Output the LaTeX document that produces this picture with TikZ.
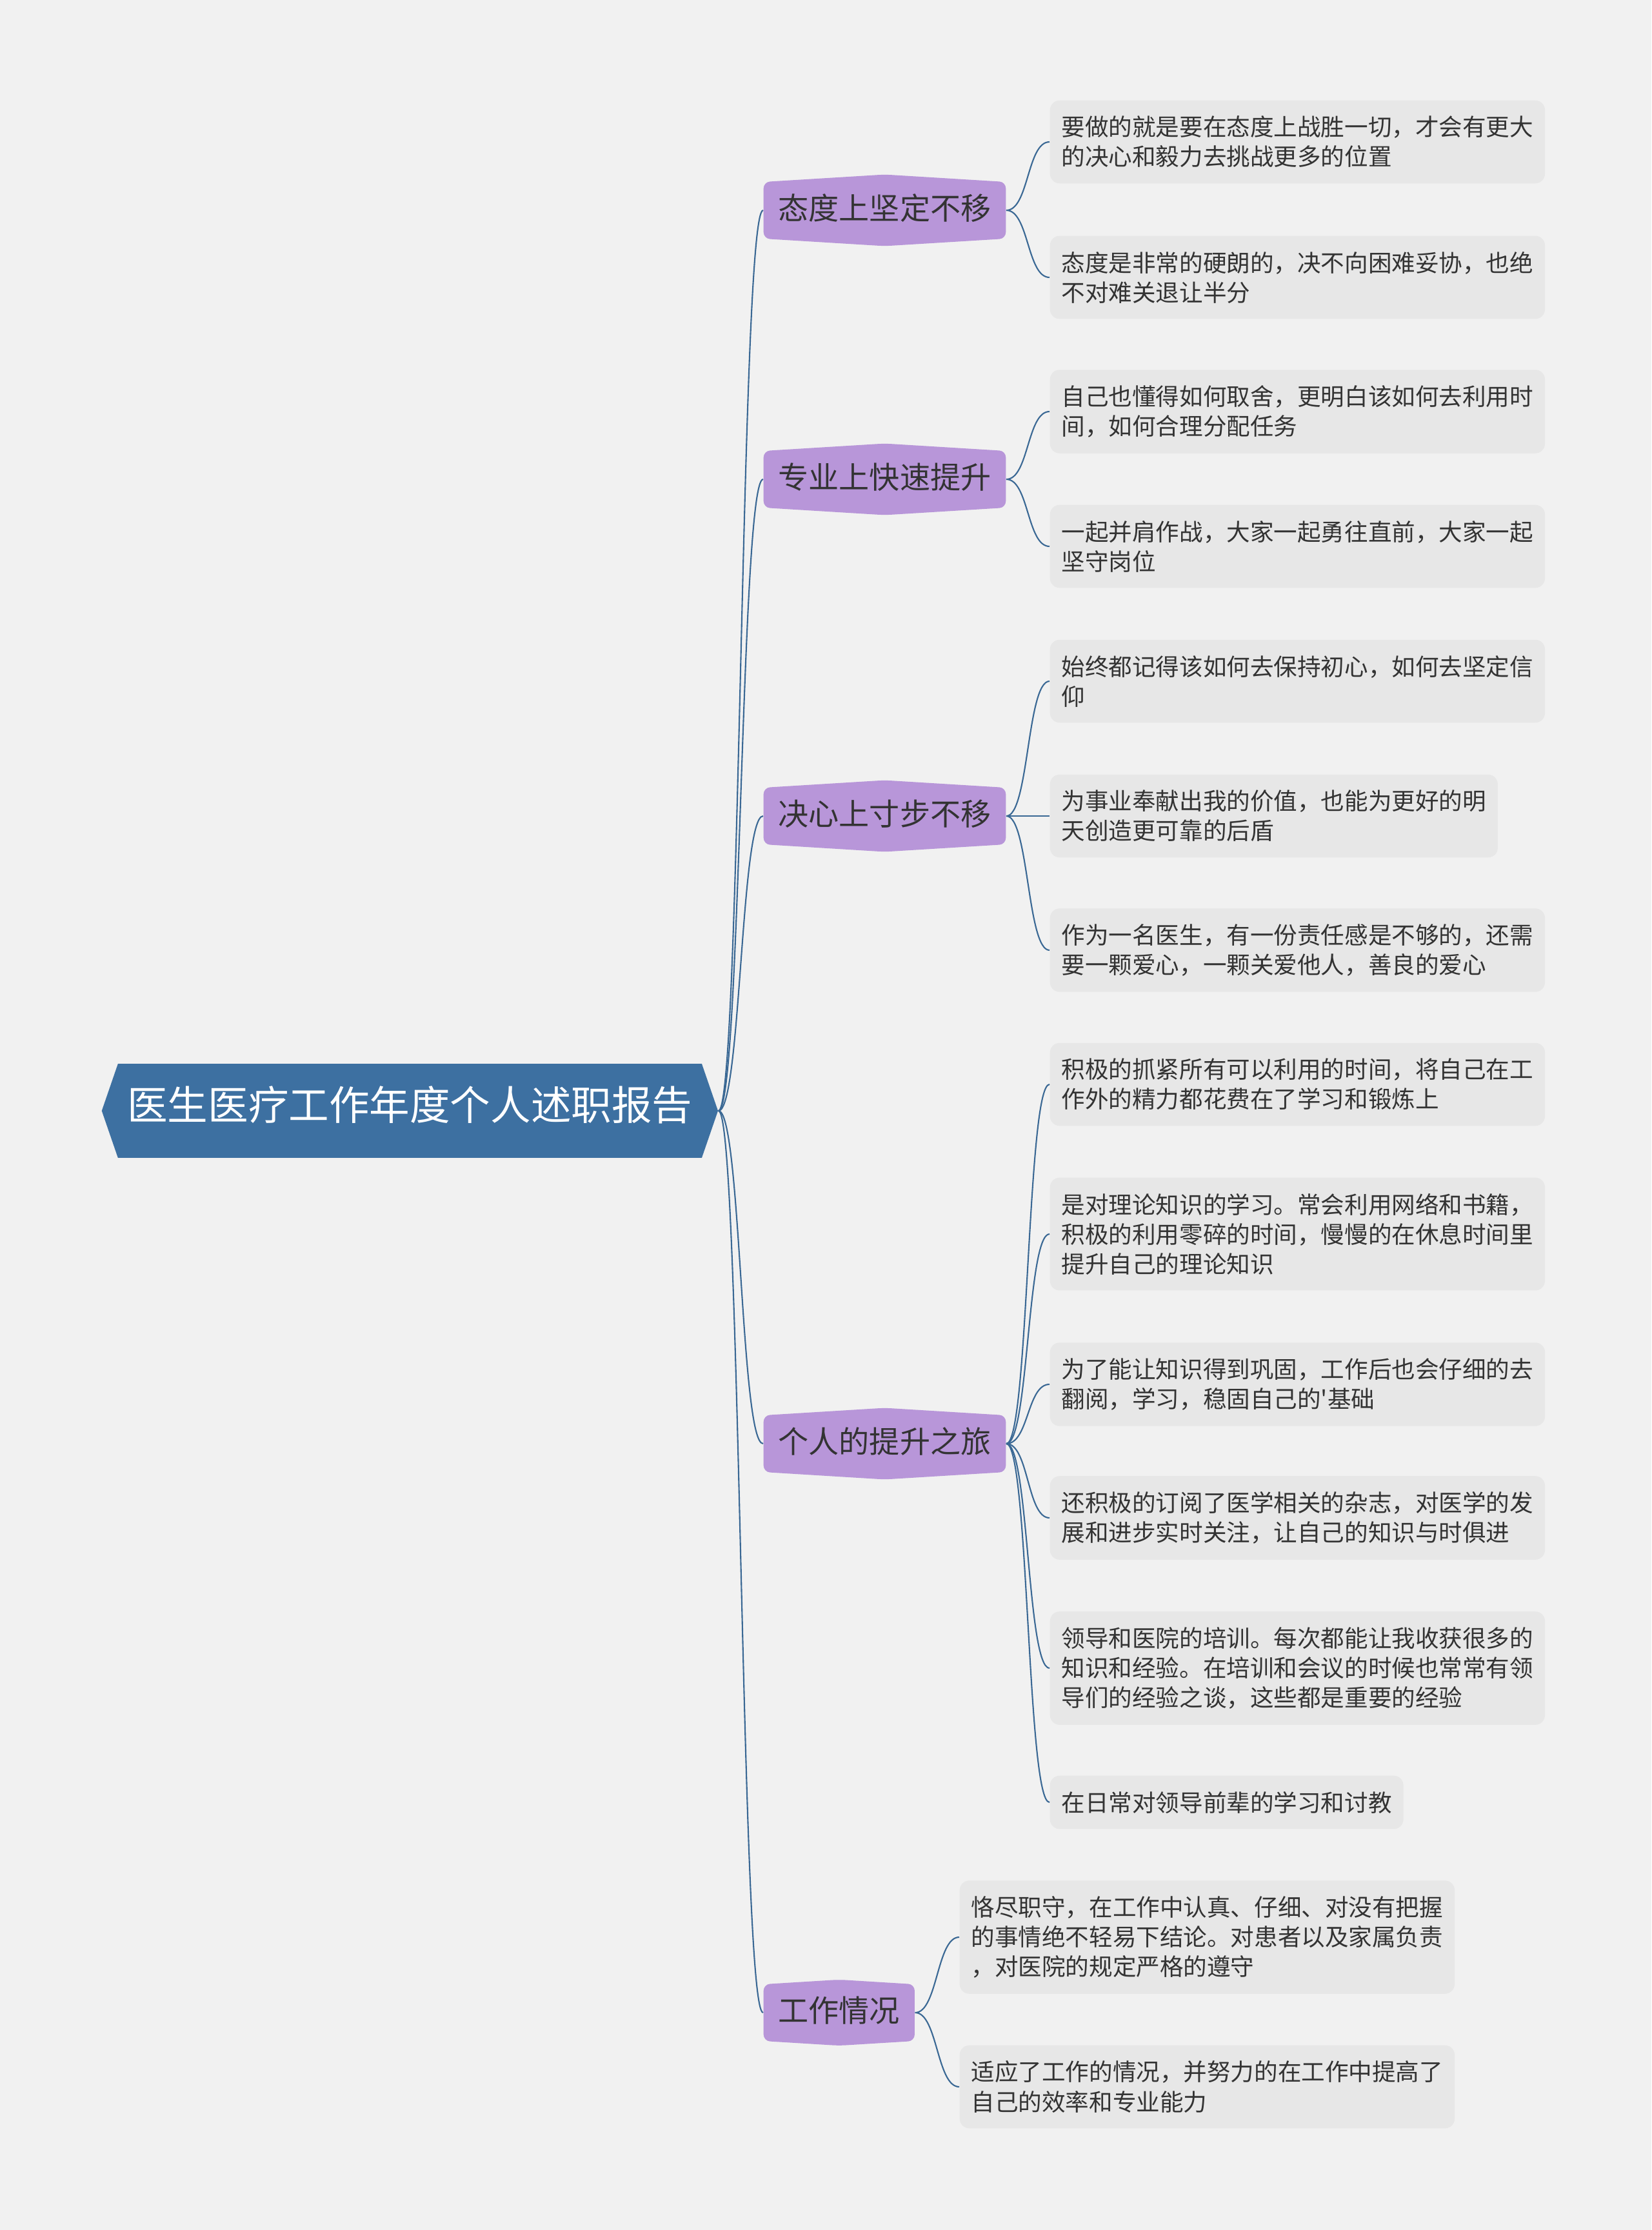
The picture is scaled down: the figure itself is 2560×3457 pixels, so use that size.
\documentclass[tikz,border=0pt]{standalone}
\usepackage{fontspec}
\setmainfont{Noto Sans CJK SC}
\newfontfamily\plaincjk{Noto Sans CJK SC}
\usepackage{xcolor}
\usepackage{tikz}
\usetikzlibrary{shapes.symbols, positioning}

\definecolor{bgcolor}{HTML}{F1F1F1}
\definecolor{rootblue}{HTML}{3D70A1}
\definecolor{linkblue}{HTML}{3A6894}
\definecolor{topicpurple}{HTML}{B896D9}
\definecolor{leafgray}{HTML}{E7E7E7}
\definecolor{darktext}{HTML}{333333}

\begin{document}
\begin{tikzpicture}[x=0.01cm, y=-0.01cm]
    \tikzstyle{root} = [signal, signal to=east and west, signal pointer angle=142, fill=rootblue, text=white, inner xsep=4.1pt, inner ysep=15.7pt, text height=0.92em, text depth=0.08em, font=\fontsize{17.8pt}{20pt}\selectfont]
    \tikzstyle{topic} = [signal, signal to=north and south, signal pointer angle=173, rounded corners=0.1cm, fill=topicpurple, text=darktext, inner xsep=6.5pt, inner ysep=7.5pt, text height=0.92em, text depth=0.08em, font=\fontsize{13.4pt}{16pt}\selectfont]
    \tikzstyle{leaf} = [rectangle, rounded corners=0.15cm, fill=leafgray, text=darktext, align=left, inner xsep=5.1pt, inner ysep=6.9pt, anchor=west, font=\fontsize{10.4pt}{13.1pt}\selectfont]
    \tikzstyle{line} = [draw, linkblue, line width=0.6pt]

    \useasboundingbox [fill=bgcolor] (0,0) rectangle (2560,3457);

    % central topic
    \node [root, anchor=west] (report) at (157,1722) {医生医疗工作年度个人述职报告};

    % main branches
    \node [topic, anchor=west] (attitude) at (1183,326) {态度上坚定不移};
    \node [topic, anchor=west] (skill) at (1183,743) {专业上快速提升};
    \node [topic, anchor=west] (resolve) at (1183,1265) {决心上寸步不移};
    \node [topic, anchor=west] (growth) at (1183,2238) {个人的提升之旅};
    \node [topic, anchor=west] (work) at (1183,3120) {工作情况};

    % details
    \node [leaf] (attitudeA) at (1627,220) {要做的就是要在态度上战胜一切，才会有更大\\的决心和毅力去挑战更多的位置};
    \node [leaf] (attitudeB) at (1627,430) {态度是非常的硬朗的，决不向困难妥协，也绝\\不对难关退让半分};
    \node [leaf] (skillA) at (1627,638) {自己也懂得如何取舍，更明白该如何去利用时\\间，如何合理分配任务};
    \node [leaf] (skillB) at (1627,847) {一起并肩作战，大家一起勇往直前，大家一起\\坚守岗位};
    \node [leaf] (resolveA) at (1627,1056) {始终都记得该如何去保持初心，如何去坚定信\\仰};
    \node [leaf] (resolveB) at (1627,1265) {为事业奉献出我的价值，也能为更好的明\\天创造更可靠的后盾};
    \node [leaf] (resolveC) at (1627,1473) {作为一名医生，有一份责任感是不够的，还需\\要一颗爱心，一颗关爱他人，善良的爱心};
    \node [leaf] (growthA) at (1627,1681) {积极的抓紧所有可以利用的时间，将自己在工\\作外的精力都花费在了学习和锻炼上};
    \node [leaf] (growthB) at (1627,1913) {是对理论知识的学习。常会利用网络和书籍，\\积极的利用零碎的时间，慢慢的在休息时间里\\提升自己的理论知识};
    \node [leaf] (growthC) at (1627,2146) {为了能让知识得到巩固，工作后也会仔细的去\\翻阅，学习，稳固自己的{\plaincjk '}基础};
    \node [leaf] (growthD) at (1627,2353) {还积极的订阅了医学相关的杂志，对医学的发\\展和进步实时关注，让自己的知识与时俱进};
    \node [leaf] (growthE) at (1627,2586) {领导和医院的培训。每次都能让我收获很多的\\知识和经验。在培训和会议的时候也常常有领\\导们的经验之谈，这些都是重要的经验};
    \node [leaf] (growthF) at (1627,2794) {在日常对领导前辈的学习和讨教};
    \node [leaf] (workA) at (1487,3003) {恪尽职守，在工作中认真、仔细、对没有把握\\的事情绝不轻易下结论。对患者以及家属负责\\，对医院的规定严格的遵守};
    \node [leaf] (workB) at (1487,3235) {适应了工作的情况，并努力的在工作中提高了\\自己的效率和专业能力};

    % root to branches
    \path [line] (report.east) .. controls +(35,0) and +(-35,0) .. (attitude.west);
    \path [line] (report.east) .. controls +(35,0) and +(-35,0) .. (skill.west);
    \path [line] (report.east) .. controls +(35,0) and +(-35,0) .. (resolve.west);
    \path [line] (report.east) .. controls +(35,0) and +(-35,0) .. (growth.west);
    \path [line] (report.east) .. controls +(35,0) and +(-35,0) .. (work.west);

    % branches to details
    \path [line] (attitude.east) .. controls +(35,0) and +(-35,0) .. (attitudeA.west);
    \path [line] (attitude.east) .. controls +(35,0) and +(-35,0) .. (attitudeB.west);
    \path [line] (skill.east) .. controls +(35,0) and +(-35,0) .. (skillA.west);
    \path [line] (skill.east) .. controls +(35,0) and +(-35,0) .. (skillB.west);
    \path [line] (resolve.east) .. controls +(35,0) and +(-35,0) .. (resolveA.west);
    \path [line] (resolve.east) -- (resolveB.west);
    \path [line] (resolve.east) .. controls +(35,0) and +(-35,0) .. (resolveC.west);
    \path [line] (growth.east) .. controls +(35,0) and +(-35,0) .. (growthA.west);
    \path [line] (growth.east) .. controls +(35,0) and +(-35,0) .. (growthB.west);
    \path [line] (growth.east) .. controls +(35,0) and +(-35,0) .. (growthC.west);
    \path [line] (growth.east) .. controls +(35,0) and +(-35,0) .. (growthD.west);
    \path [line] (growth.east) .. controls +(35,0) and +(-35,0) .. (growthE.west);
    \path [line] (growth.east) .. controls +(35,0) and +(-35,0) .. (growthF.west);
    \path [line] (work.east) .. controls +(35,0) and +(-35,0) .. (workA.west);
    \path [line] (work.east) .. controls +(35,0) and +(-35,0) .. (workB.west);
\end{tikzpicture}
\end{document}
